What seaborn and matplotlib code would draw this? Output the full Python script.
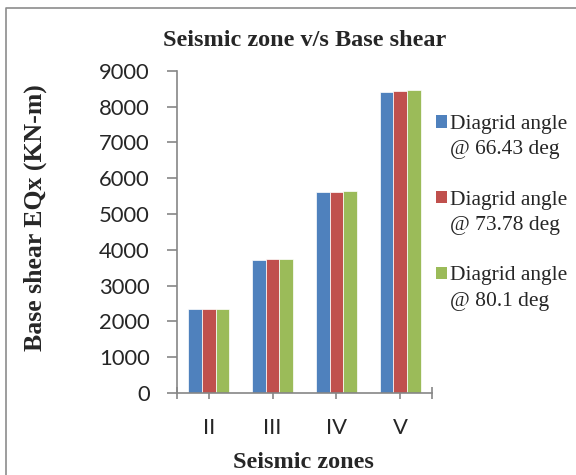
import matplotlib
matplotlib.use('Agg')
import matplotlib.pyplot as plt
import seaborn as sns
import pandas as pd
from matplotlib.patches import Patch
from matplotlib.lines import Line2D

# ---- data ----
zones = ['II', 'III', 'IV', 'V']
angle_66_43 = [2335, 3725, 5620, 8415]
angle_73_78 = [2340, 3730, 5622, 8432]
angle_80_1 = [2345, 3745, 5628, 8450]
series_labels = ['@ 66.43 deg', '@ 73.78 deg', '@ 80.1 deg']
colors = ['#4F81BD', '#C0504D', '#9BBB59']

rows = []
for lab, vals in zip(series_labels, [angle_66_43, angle_73_78, angle_80_1]):
    for z, v in zip(zones, vals):
        rows.append({'zone': z, 'value': v, 'series': lab})
df = pd.DataFrame(rows)

sns.set_style('white')
plt.rcParams['font.family'] = ['Lato', 'DejaVu Sans']
SERIF = 'Liberation Serif'

W, H = 576, 475
fig = plt.figure(figsize=(W / 100, H / 100), dpi=100)
ax = fig.add_axes([177 / W, 1 - 393 / H, 255 / W, 322.3 / H])

sns.barplot(data=df, x='zone', y='value', hue='series', hue_order=series_labels,
            order=zones, palette=colors, width=0.645, gap=0, saturation=1,
            edgecolor='white', linewidth=0.5, ax=ax, legend=False)

ax.set_xlim(-0.5, 3.5)
ax.set_ylim(0, 9000)
ax.set_yticks(range(0, 9001, 1000))
for s in ['top', 'right']:
    ax.spines[s].set_visible(False)
for s in ['left', 'bottom']:
    ax.spines[s].set_color('#868686')
    ax.spines[s].set_linewidth(1.2)

ax.tick_params(axis='y', direction='out', length=7.2, width=1.2, color='#868686',
               pad=12.5, labelsize=15.8, left=True)
ax.tick_params(axis='x', which='major', direction='out', length=4.3, width=1.2,
               color='#868686', pad=13.5, labelsize=15.8, bottom=True)
ax.set_xticks([-0.5, 3.5], minor=True)
ax.tick_params(axis='x', which='minor', direction='inout', length=8, width=1.2,
               color='#868686', bottom=True)

BOLD = 17.5
ax.set_xlabel('Seismic zones', family=SERIF, weight='bold', size=BOLD, va='center')
ax.xaxis.set_label_coords((303 - 177) / 255, (393 - 462) / 322.3)
ax.set_ylabel('Base shear EQx (KN-m)', family=SERIF, weight='bold', size=18.5, va='center')
ax.yaxis.set_label_coords((35 - 177) / 255, (393 - 218) / 322.3)

fig.text(305 / W, 1 - 41 / H, 'Seismic zone v/s Base shear', ha='center', va='center',
         family=SERIF, weight='bold', size=BOLD)

# legend
handles, labels = [], []
for i, (lab, c) in enumerate(zip(series_labels, colors)):
    handles.append(Patch(facecolor=c, edgecolor='none'))
    labels.append('Diagrid angle')
    handles.append(Patch(facecolor='none', edgecolor='none'))
    labels.append(lab)
    if i < len(series_labels) - 1:
        handles.append(Patch(facecolor='none', edgecolor='none'))
        labels.append(' ')
ax.legend(handles, labels, loc='upper left', bbox_to_anchor=(436 / W, 1 - 115 / H),
          bbox_transform=fig.transFigure, frameon=False, borderpad=0, borderaxespad=0,
          handlelength=0.52, handleheight=0.52, handletextpad=0.15, labelspacing=0.29,
          prop={'family': SERIF, 'size': 15.5})

fig.add_artist(Line2D([6 / W, 6 / W, 1.0], [0, 1 - 8 / H, 1 - 8 / H],
                      transform=fig.transFigure, color='#8c8c8c', lw=1.2))

fig.savefig('out.png', dpi=100)
